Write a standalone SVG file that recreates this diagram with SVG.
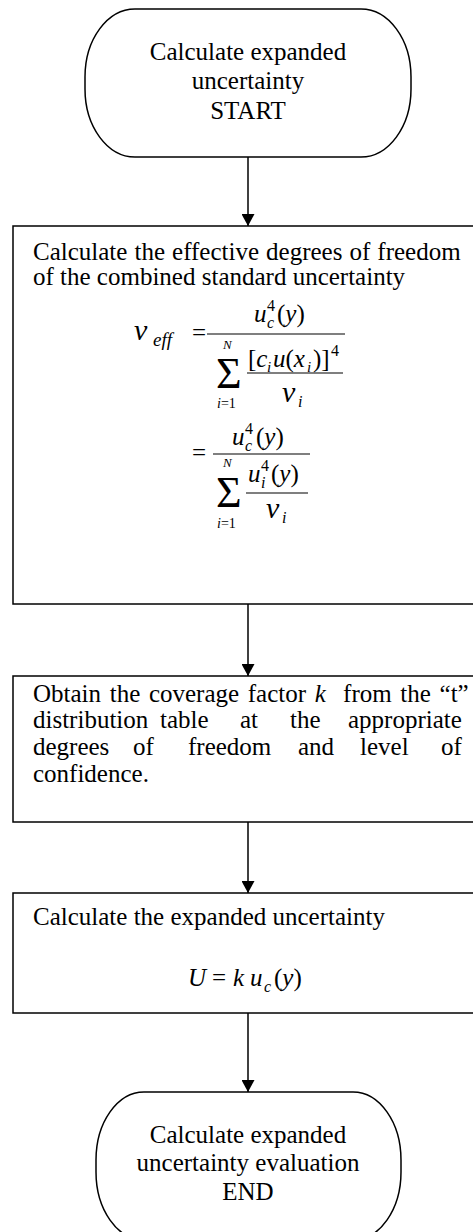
<svg xmlns="http://www.w3.org/2000/svg" width="473" height="1232" viewBox="0 0 473 1232">
<style>
.shape{fill:#fff;stroke:#000;stroke-width:1.5}
.t{font-family:"Liberation Serif","Times New Roman",serif;font-size:25px;fill:#000}
.c{text-anchor:middle}
.m{font-family:"Liberation Serif","Times New Roman",serif;fill:#000}
.conn{stroke:#000;stroke-width:1.5;fill:none}
.bar{stroke:#000;stroke-width:1.2}
</style>
<defs>
<marker id="arr" markerWidth="12" markerHeight="13" refX="12" refY="6.5" orient="auto" markerUnits="userSpaceOnUse">
<path d="M0,0 L12,6.5 L0,13 Z" fill="#000"/>
</marker>
</defs>
<g id="connectors">
<line class="conn" x1="248" y1="157" x2="248" y2="226" marker-end="url(#arr)"/>
<line class="conn" x1="248" y1="604" x2="248" y2="676" marker-end="url(#arr)"/>
<line class="conn" x1="248" y1="822" x2="248" y2="893" marker-end="url(#arr)"/>
<line class="conn" x1="248" y1="1013" x2="248" y2="1092" marker-end="url(#arr)"/>
</g>
<g id="start">
<rect class="shape" x="85" y="9" width="326" height="148" rx="50" ry="68"/>
<text class="t c" x="248" y="60">Calculate expanded</text>
<text class="t c" x="248" y="89">uncertainty</text>
<text class="t c" x="248" y="119">START</text>
</g>
<g id="dof">
<rect class="shape" x="13" y="226" width="470" height="378"/>
<text class="t" x="33" y="260" word-spacing="0.8">Calculate the effective degrees of freedom</text>
<text class="t" x="33" y="285">of the combined standard uncertainty</text>
<g class="m">
<text x="134" y="340" font-size="30" font-style="italic">ν</text>
<text x="153" y="346" font-size="19" font-style="italic">eff</text>
<text x="192" y="341" font-size="25">=</text>
<text x="254" y="322" font-size="25" font-style="italic">u</text>
<text x="267" y="328" font-size="16" font-style="italic">c</text>
<text x="267" y="311" font-size="16">4</text>
<text x="277" y="322" font-size="25">(<tspan font-style="italic">y</tspan>)</text>
<line class="bar" x1="207" y1="334" x2="345" y2="334"/>
<text x="223" y="349" font-size="13" font-style="italic">N</text>
<text x="216" y="388" font-size="44">Σ</text>
<text x="217" y="408" font-size="14"><tspan font-style="italic">i</tspan>=1</text>
<text x="248" y="367" font-size="25">[<tspan font-style="italic">c</tspan></text>
<text x="267" y="372" font-size="15" font-style="italic">i</text>
<text x="273" y="367" font-size="25"><tspan font-style="italic">u</tspan>(<tspan font-style="italic">x</tspan></text>
<text x="307" y="372" font-size="15" font-style="italic">i</text>
<text x="313" y="367" font-size="25">)]</text>
<text x="331" y="356" font-size="16">4</text>
<line class="bar" x1="247" y1="373" x2="343" y2="373"/>
<text x="282" y="402" font-size="30" font-style="italic">ν</text>
<text x="298" y="407" font-size="16" font-style="italic">i</text>
<text x="192" y="461" font-size="25">=</text>
<text x="232" y="445" font-size="25" font-style="italic">u</text>
<text x="245" y="451" font-size="16" font-style="italic">c</text>
<text x="245" y="434" font-size="16">4</text>
<text x="256" y="445" font-size="25">(<tspan font-style="italic">y</tspan>)</text>
<line class="bar" x1="213" y1="454" x2="310" y2="454"/>
<text x="223" y="467" font-size="13" font-style="italic">N</text>
<text x="216" y="507" font-size="44">Σ</text>
<text x="217" y="528" font-size="14"><tspan font-style="italic">i</tspan>=1</text>
<text x="248" y="482" font-size="25" font-style="italic">u</text>
<text x="261" y="488" font-size="16" font-style="italic">i</text>
<text x="261" y="471" font-size="16">4</text>
<text x="271" y="482" font-size="25">(<tspan font-style="italic">y</tspan>)</text>
<line class="bar" x1="246" y1="493" x2="308" y2="493"/>
<text x="266" y="518" font-size="30" font-style="italic">ν</text>
<text x="282" y="523" font-size="16" font-style="italic">i</text>
</g>
</g>
<g id="coverage">
<rect class="shape" x="13" y="676" width="470" height="146"/>
<text class="t" x="33" y="702" word-spacing="2.4" xml:space="preserve">Obtain the coverage factor <tspan font-style="italic">k</tspan>  from the “t”</text>
<text class="t" y="728"><tspan x="33">distribution</tspan><tspan x="160">table</tspan><tspan x="240">at</tspan><tspan x="290">the</tspan><tspan x="348">appropriate</tspan></text>
<text class="t" y="755"><tspan x="33">degrees</tspan><tspan x="133">of</tspan><tspan x="188">freedom</tspan><tspan x="298">and</tspan><tspan x="360">level</tspan><tspan x="441">of</tspan></text>
<text class="t" x="33" y="782">confidence.</text>
</g>
<g id="expanded">
<rect class="shape" x="13" y="893" width="470" height="120"/>
<text class="t" x="33" y="925">Calculate the expanded uncertainty</text>
<g class="m">
<text x="188" y="986" font-size="25" font-style="italic">U</text>
<text x="212" y="986" font-size="25">=</text>
<text x="233" y="986" font-size="25" font-style="italic">k</text>
<text x="250" y="986" font-size="25" font-style="italic">u</text>
<text x="264" y="992" font-size="16" font-style="italic">c</text>
<text x="274" y="986" font-size="25">(<tspan font-style="italic">y</tspan>)</text>
</g>
</g>
<g id="end">
<rect class="shape" x="96" y="1092" width="305" height="148" rx="48" ry="68"/>
<text class="t c" x="248" y="1143">Calculate expanded</text>
<text class="t c" x="248" y="1171">uncertainty evaluation</text>
<text class="t c" x="248" y="1200">END</text>
</g>
</svg>
